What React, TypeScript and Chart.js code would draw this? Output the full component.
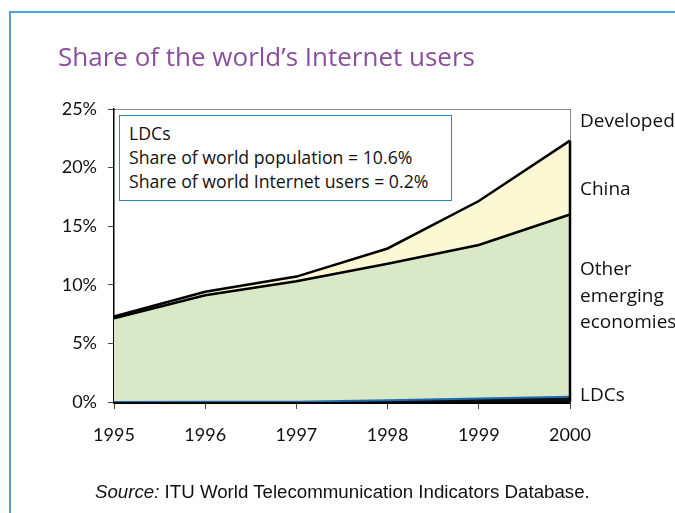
import React, { useEffect, useRef } from "react";
import { Chart, registerables } from "chart.js";

Chart.register(...registerables);

const years = ["1995", "1996", "1997", "1998", "1999", "2000"];
const ldcs = [0.01, 0.02, 0.03, 0.15, 0.3, 0.45];
const otherEmerging = [7.14, 9.08, 10.27, 11.65, 13.1, 15.55];
const china = [0.15, 0.3, 0.4, 1.3, 3.75, 6.3];
const yTicks = [0, 5, 10, 15, 20, 25];

const TICK_FONT = "Lato, 'Open Sans', sans-serif";
const TEXT_FONT = "'Open Sans', Lato, sans-serif";

const edgePlugin = {
  id: "rightEdge",
  afterDatasetsDraw(chart: any) {
    const metas = chart.getSortedVisibleDatasetMetas();
    if (!metas.length) return;
    const top = metas[metas.length - 1];
    const pts = top.data;
    if (!pts.length) return;
    const last = pts[pts.length - 1];
    const y0 = chart.scales.y.getPixelForValue(0);
    const ctx = chart.ctx;
    ctx.save();
    ctx.strokeStyle = "#000";
    ctx.lineWidth = 2.5;
    ctx.beginPath();
    ctx.moveTo(last.x, y0);
    ctx.lineTo(last.x, last.y);
    ctx.stroke();
    ctx.restore();
  },
};

export default function App() {
  const ref = useRef<HTMLCanvasElement | null>(null);

  useEffect(() => {
    if (!ref.current) return;
    const chart = new Chart(ref.current, {
      type: "line",
      data: {
        labels: years,
        datasets: [
          {
            label: "LDCs",
            data: ldcs,
            fill: "origin",
            backgroundColor: "#0b0f14",
            borderColor: "#1f6db0",
            borderWidth: 2,
            pointRadius: 0,
            tension: 0,
          },
          {
            label: "Other emerging economies",
            data: otherEmerging,
            fill: "-1",
            backgroundColor: "#d9e9c8",
            borderColor: "#000",
            borderWidth: 2.5,
            pointRadius: 0,
            tension: 0,
          },
          {
            label: "China",
            data: china,
            fill: "-1",
            backgroundColor: "#fbf8d3",
            borderColor: "#000",
            borderWidth: 2.5,
            pointRadius: 0,
            tension: 0,
          },
        ],
      },
      options: {
        responsive: false,
        animation: false,
        events: [],
        layout: { padding: { left: 0, top: 109, right: 105, bottom: 0 } },
        plugins: {
          legend: { display: false },
          tooltip: { enabled: false },
          title: { display: false },
        },
        scales: {
          x: {
            type: "category",
            position: "bottom",
            offset: false,
            grid: {
              drawOnChartArea: false,
              drawTicks: true,
              tickLength: 7,
              color: "#444",
              lineWidth: 1,
            },
            border: { display: true, color: "#000", width: 3 },
            ticks: {
              color: "#111",
              font: { family: TICK_FONT, size: 18 },
              padding: 15,
              maxRotation: 0,
              autoSkip: false,
            },
            afterFit: (s: any) => {
              s.height = 111;
            },
          },
          xTop: {
            type: "category",
            position: "top",
            labels: years,
            offset: false,
            grid: { display: false, drawTicks: false },
            ticks: { display: false },
            border: { display: true, color: "#888", width: 1 },
            afterFit: (s: any) => {
              s.height = 0;
            },
          },
          y: {
            type: "linear",
            stacked: true,
            min: 0,
            max: 25,
            afterBuildTicks: (s: any) => {
              s.ticks = yTicks.map((v) => ({ value: v }));
            },
            grid: {
              drawOnChartArea: false,
              drawTicks: true,
              tickLength: 6,
              color: "#444",
              lineWidth: 1,
            },
            border: { display: true, color: "#000", width: 1.5 },
            ticks: {
              color: "#111",
              font: { family: TICK_FONT, size: 18 },
              padding: 11,
              callback: (v: any) => v + "%",
            },
            afterFit: (s: any) => {
              s.width = 114;
            },
          },
          yRight: {
            type: "linear",
            position: "right",
            min: 0,
            max: 25,
            grid: { display: false, drawTicks: false },
            ticks: { display: false },
            border: { display: true, color: "#888", width: 1 },
            afterFit: (s: any) => {
              s.width = 0;
            },
          },
        },
      },
      plugins: [edgePlugin],
    });
    return () => chart.destroy();
  }, []);

  const label = (text: string, top: number) => (
    <div
      style={{
        position: "absolute",
        left: 580,
        top: top - 12,
        height: 24,
        lineHeight: "24px",
        fontFamily: TEXT_FONT,
        fontSize: 19,
        color: "#111",
        whiteSpace: "nowrap",
      }}
    >
      {text}
    </div>
  );

  return (
    <div
      style={{
        position: "absolute",
        left: 0,
        top: 0,
        width: 675,
        height: 513,
        background: "#fff",
        overflow: "hidden",
      }}
    >
      <canvas ref={ref} width={675} height={513} style={{ position: "absolute", left: 0, top: 0 }} />
      <div
        style={{
          position: "absolute",
          left: 9,
          top: 11,
          width: 700,
          height: 600,
          borderTop: "2px solid #4da2d6",
          borderLeft: "2px solid #4da2d6",
        }}
      />
      <div
        style={{
          position: "absolute",
          left: 58,
          top: 38,
          height: 36,
          lineHeight: "36px",
          fontFamily: TEXT_FONT,
          fontSize: 26,
          color: "#8a4f9c",
          whiteSpace: "nowrap",
        }}
      >
        Share of the world’s Internet users
      </div>
      {label("Developed", 120)}
      {label("China", 188)}
      {label("Other", 268)}
      {label("emerging", 295)}
      {label("economies", 321)}
      {label("LDCs", 394)}
      <div
        style={{
          position: "absolute",
          left: 119,
          top: 115,
          width: 333,
          height: 86,
          boxSizing: "border-box",
          border: "1.5px solid #2a86c0",
          background: "#fff",
          padding: "5px 0 0 9px",
          fontFamily: TEXT_FONT,
          fontSize: 17.7,
          lineHeight: "24px",
          color: "#111",
          whiteSpace: "nowrap",
        }}
      >
        <div>LDCs</div>
        <div>Share of world population = 10.6%</div>
        <div>Share of world Internet users = 0.2%</div>
      </div>
      <div
        style={{
          position: "absolute",
          left: 95,
          top: 480,
          height: 24,
          lineHeight: "24px",
          fontFamily: "'Liberation Sans', Arial, sans-serif",
          fontSize: 18.7,
          color: "#111",
          whiteSpace: "nowrap",
        }}
      >
        <i>Source:</i> ITU World Telecommunication Indicators Database.
      </div>
    </div>
  );
}
